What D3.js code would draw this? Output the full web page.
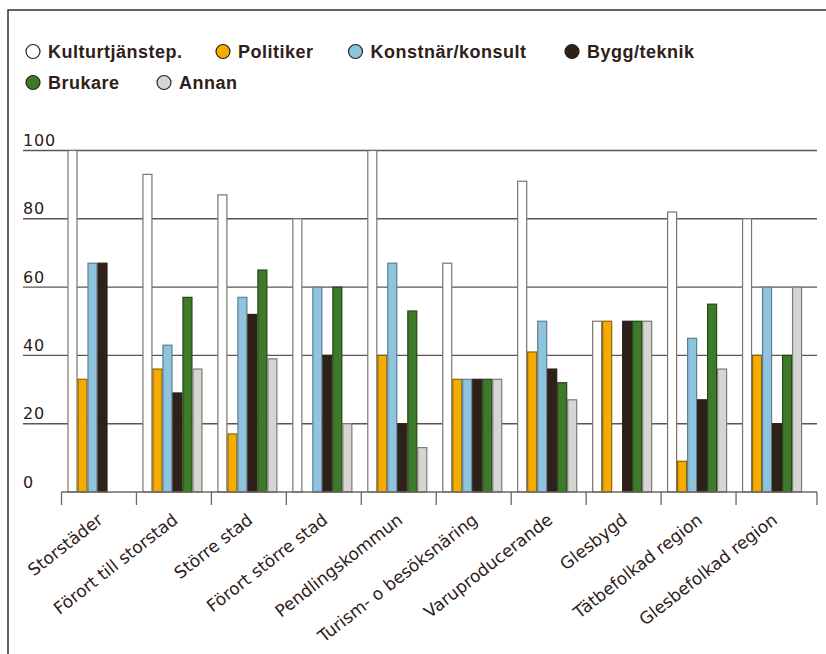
<!DOCTYPE html>
<html>
<head>
<meta charset="utf-8">
<script src="https://cdn.jsdelivr.net/npm/d3@7"></script>
<style>
  html, body { margin: 0; padding: 0; background: #fff; }
  svg { display: block; }
  .legend text { font-family: "Liberation Sans", Arial, sans-serif; font-weight: bold; font-size: 18px; letter-spacing: 0.5px; fill: #2e2018; }
  .ylab { font-family: "DejaVu Sans", sans-serif; font-size: 16px; fill: #2e2018; letter-spacing: 0.8px; }
  .xlab { font-family: "DejaVu Sans", sans-serif; font-size: 17px; fill: #2e2018; }
</style>
</head>
<body>
<svg id="chart" width="826" height="654"></svg>
<script>
// categories (kommungrupper)
const categories = [
  "Storstäder", "Förort till storstad", "Större stad", "Förort större stad",
  "Pendlingskommun", "Turism- o besöksnäring", "Varuproducerande",
  "Glesbygd", "Tätbefolkad region", "Glesbefolkad region"
];

const seriesNames = ["Kulturtjänstep.", "Politiker", "Konstnär/konsult", "Bygg/teknik", "Brukare", "Annan"];

// values per series, one per category (percent)
const kulturtjanstep = [100, 93, 87, 80, 100, 67, 91, 50, 82, 80];
const politiker      = [33, 36, 17, 0, 40, 33, 41, 50, 9, 40];
const konstnar       = [67, 43, 57, 60, 67, 33, 50, 0, 45, 60];
const byggTeknik     = [67, 29, 52, 40, 20, 33, 36, 50, 27, 20];
const brukare        = [0, 57, 65, 60, 53, 33, 32, 50, 55, 40];
const annan          = [0, 36, 39, 20, 13, 33, 27, 50, 36, 60];

const yTicks = [0, 20, 40, 60, 80, 100];

const fills   = ["#ffffff", "#f6ab00", "#8fc4df", "#2f2019", "#3d7b2b", "#d5d5d3"];
const strokes = ["#7c736d", "#8a6410", "#5a7f92", "#2f2019", "#25481b", "#7e7a76"];

const seriesValues = [kulturtjanstep, politiker, konstnar, byggTeknik, brukare, annan];

const svg = d3.select("#chart");

// outer frame
svg.append("rect")
  .attr("x", 8).attr("y", 10)
  .attr("width", 840).attr("height", 660)
  .attr("fill", "none")
  .attr("stroke", "#3a2c24")
  .attr("stroke-width", 1.5);

// legend
const legendPos = [
  { x: 33, y: 51.5 }, { x: 223, y: 51.5 }, { x: 355.5, y: 51.5 }, { x: 572, y: 51.5 },
  { x: 33, y: 82.5 }, { x: 164, y: 82.5 }
];
const legend = svg.append("g").attr("class", "legend")
  .selectAll("g")
  .data(seriesNames)
  .join("g")
  .attr("transform", (d, i) => `translate(${legendPos[i].x},${legendPos[i].y})`);

legend.append("circle")
  .attr("r", 7)
  .attr("fill", (d, i) => fills[i])
  .attr("stroke", "#2e2018")
  .attr("stroke-width", 1.2);

legend.append("text")
  .attr("x", 15)
  .attr("y", 6.3)
  .text(d => d);

// scales
const x0 = d3.scaleBand().domain(categories).range([61.5, 811]).padding(0);
const x1 = d3.scaleBand().domain(d3.range(seriesNames.length)).range([6, 66]).padding(0);
const y = d3.scaleLinear().domain([0, 100]).range([492, 150.5]);

// gridlines (not for 0)
svg.append("g")
  .selectAll("line")
  .data(yTicks.filter(t => t > 0))
  .join("line")
  .attr("x1", 23).attr("x2", 817)
  .attr("y1", d => y(d)).attr("y2", d => y(d))
  .attr("stroke", "#5e5550")
  .attr("stroke-width", 1.4);

svg.append("g")
  .selectAll("text")
  .data(yTicks)
  .join("text")
  .attr("class", "ylab")
  .attr("x", 23)
  .attr("y", d => y(d) - 4.5)
  .text(d => d);

// bars
const groups = svg.append("g")
  .selectAll("g")
  .data(categories)
  .join("g")
  .attr("transform", d => `translate(${x0(d)},0)`);

groups.selectAll("rect")
  .data((d, ci) => seriesValues.map((vals, si) => ({ si, v: vals[ci] })))
  .join("rect")
  .attr("x", d => x1(d.si) + 0.5)
  .attr("y", d => y(d.v))
  .attr("width", x1.bandwidth() - 1)
  .attr("height", d => y(0) - y(d.v))
  .attr("fill", d => fills[d.si])
  .attr("stroke", d => strokes[d.si])
  .attr("stroke-width", 1.2);

// x axis line + ticks at band edges
const axisG = svg.append("g").attr("transform", `translate(0,${y(0)})`);
axisG.append("line")
  .attr("x1", x0.range()[0]).attr("x2", 817)
  .attr("stroke", "#6f6660").attr("stroke-width", 1.3);
axisG.selectAll("line.tick")
  .data(categories.map(c => x0(c)).concat([817]))
  .join("line")
  .attr("class", "tick")
  .attr("x1", d => d).attr("x2", d => d)
  .attr("y1", 0).attr("y2", 13)
  .attr("stroke", "#6f6660").attr("stroke-width", 1.3);

// category labels, rotated
svg.append("g")
  .selectAll("text")
  .data(categories)
  .join("text")
  .attr("class", "xlab")
  .attr("text-anchor", "end")
  .attr("transform", d => `translate(${x0(d) + x0.bandwidth() / 2 + 5},${y(0) + 30}) rotate(-38)`)
  .text(d => d);
</script>
</body>
</html>
